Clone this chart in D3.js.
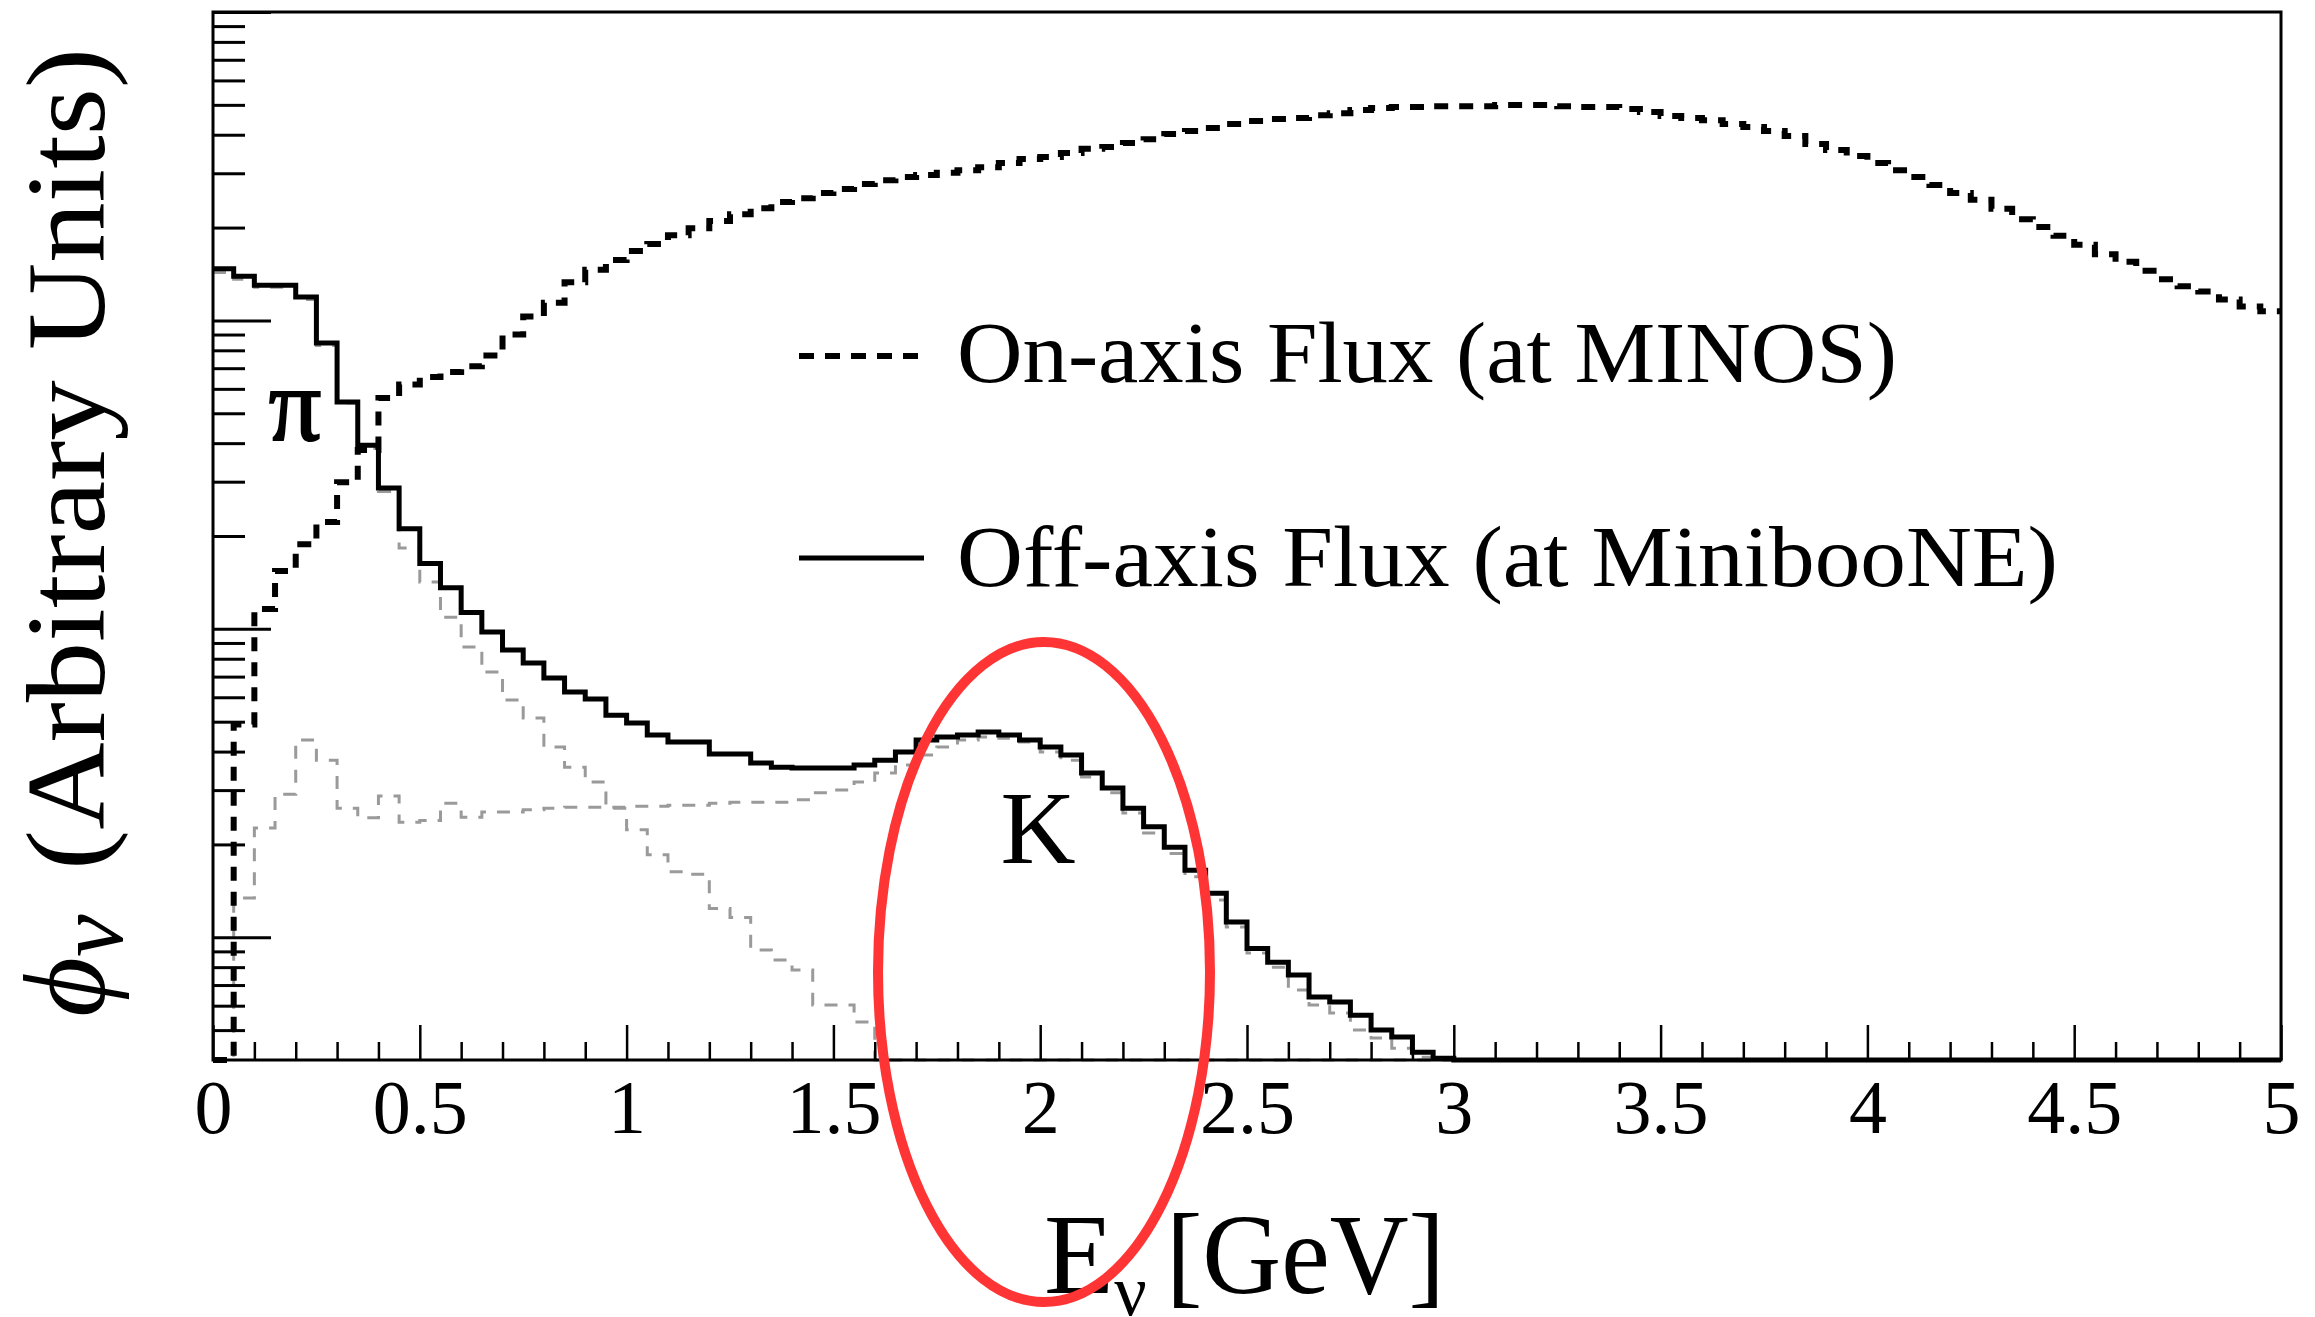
<!DOCTYPE html>
<html lang="en">
<head>
<meta charset="utf-8">
<title>Neutrino flux: on-axis vs off-axis</title>
<script src="https://cdn.jsdelivr.net/npm/d3@7"></script>
<style>
  body { margin: 0; background: #fff; }
  svg { display: block; }
  text { font-family: "Liberation Serif", "DejaVu Serif", serif; fill: #000; }
</style>
</head>
<body>
<script>
// bin width of the histograms (GeV), 100 bins from 0 to 5
var binWidth = 0.05;

// on-axis flux at MINOS (dotted)
var onAxisFlux = [0, 4.9, 11.6, 15.4, 18.8, 22.2, 29.9, 38, 56, 62,
  65.5, 68, 71, 77, 90, 103, 114, 133, 146, 157,
  168, 177, 189, 199, 210, 221, 231, 242, 249, 259,
  267, 277, 285, 292, 296, 301, 307, 314, 324, 334,
  339, 349, 360, 365, 376, 387, 402, 411, 421, 433,
  443, 450, 453, 463, 470, 481, 488, 492, 492, 495,
  495, 495, 499, 499, 499, 495, 492, 492, 485, 474,
  460, 453, 446, 433, 424, 411, 396, 373, 357, 341,
  324, 307, 292, 275, 259, 246, 230, 213, 201, 188,
  176, 164, 155, 145, 136, 129, 124, 117, 111, 107];

// off-axis flux at MiniBooNE (solid)
var offAxisFlux = [147, 139, 130, 130, 119, 84.5, 54.4, 39.4, 28.6, 21.1,
  16.3, 13.6, 11.3, 9.76, 8.54, 7.75, 6.93, 6.24, 5.92, 5.25,
  4.95, 4.53, 4.30, 4.30, 3.93, 3.93, 3.67, 3.56, 3.54, 3.54,
  3.54, 3.62, 3.75, 3.99, 4.36, 4.46, 4.53, 4.63, 4.53, 4.36,
  4.14, 3.90, 3.41, 3.05, 2.62, 2.28, 1.96, 1.65, 1.39, 1.12,
  0.92, 0.83, 0.754, 0.640, 0.617, 0.559, 0.500, 0.475, 0.424, 0.405,
  0, 0, 0, 0, 0, 0, 0, 0, 0, 0,
  0, 0, 0, 0, 0, 0, 0, 0, 0, 0,
  0, 0, 0, 0, 0, 0, 0, 0, 0, 0,
  0, 0, 0, 0, 0, 0, 0, 0, 0, 0];

// pion component of the off-axis flux (grey dashed)
var pionFlux = [143, 136, 128, 128, 117, 83, 54, 38.5, 27.9, 18.3,
  14.2, 10.9, 8.73, 7.24, 5.88, 5.14, 4.14, 3.56, 3.19, 2.62,
  2.23, 1.85, 1.63, 1.60, 1.24, 1.16, 0.91, 0.844, 0.783, 0.603,
  0.603, 0.531, 0, 0, 0, 0, 0, 0, 0, 0,
  0, 0, 0, 0, 0, 0, 0, 0, 0, 0,
  0, 0, 0, 0, 0, 0, 0, 0, 0, 0,
  0, 0, 0, 0, 0, 0, 0, 0, 0, 0,
  0, 0, 0, 0, 0, 0, 0, 0, 0, 0,
  0, 0, 0, 0, 0, 0, 0, 0, 0, 0,
  0, 0, 0, 0, 0, 0, 0, 0, 0, 0];

// kaon component of the off-axis flux (grey dashed)
var kaonFlux = [0, 1.34, 2.26, 2.91, 4.36, 3.75, 2.62, 2.44, 2.87, 2.36,
  2.39, 2.72, 2.45, 2.55, 2.55, 2.59, 2.62, 2.64, 2.64, 2.64,
  2.66, 2.66, 2.68, 2.68, 2.72, 2.74, 2.74, 2.74, 2.79, 2.94,
  3.00, 3.19, 3.41, 3.62, 3.90, 4.14, 4.36, 4.46, 4.42, 4.30,
  3.99, 3.75, 3.31, 2.94, 2.53, 2.18, 1.87, 1.57, 1.32, 1.08,
  0.889, 0.800, 0.674, 0.603, 0.568, 0.500, 0.471, 0.437, 0.408, 0,
  0, 0, 0, 0, 0, 0, 0, 0, 0, 0,
  0, 0, 0, 0, 0, 0, 0, 0, 0, 0,
  0, 0, 0, 0, 0, 0, 0, 0, 0, 0,
  0, 0, 0, 0, 0, 0, 0, 0, 0, 0];

// axis ticks
var xMajorTicks = [0, 0.5, 1, 1.5, 2, 2.5, 3, 3.5, 4, 4.5, 5];
var xTickLabels = ["0", "0.5", "1", "1.5", "2", "2.5", "3", "3.5", "4", "4.5", "5"];
var xMinorTicks = [0.1, 0.2, 0.3, 0.4, 0.6, 0.7, 0.8, 0.9, 1.1, 1.2, 1.3, 1.4,
  1.6, 1.7, 1.8, 1.9, 2.1, 2.2, 2.3, 2.4, 2.6, 2.7, 2.8, 2.9, 3.1, 3.2, 3.3, 3.4,
  3.6, 3.7, 3.8, 3.9, 4.1, 4.2, 4.3, 4.4, 4.6, 4.7, 4.8, 4.9];
var yMajorTicks = [1, 10, 100, 1000];
var yMinorTicks = [0.5, 0.6, 0.7, 0.8, 0.9, 2, 3, 4, 5, 6, 7, 8, 9,
  20, 30, 40, 50, 60, 70, 80, 90, 200, 300, 400, 500, 600, 700, 800, 900];

var legendLabels = ["On-axis Flux (at MINOS)", "Off-axis Flux (at MinibooNE)"];

var w = 2315, h = 1317;
var mLeft = 213, mRight = 2281, mTop = 12, mBottom = 1060;

var svg = d3.select("body").append("svg")
  .attr("width", w).attr("height", h);

var x = d3.scaleLinear().domain([0, 5]).range([mLeft, mRight]);
var y = d3.scaleLog().domain([0.4, 1000]).range([mBottom, mTop]).clamp(true);

// step histogram path
function histPath(vals) {
  var pts = vals.map(function(v, i) { return [i * binWidth, v]; });
  pts.push([vals.length * binWidth, vals[vals.length - 1]]);
  return d3.line()
    .x(function(d) { return x(d[0]); })
    .y(function(d) { return y(d[1]); })
    .curve(d3.curveStepAfter)(pts);
}

var plot = svg.append("g");

// components (grey dashed)
[pionFlux, kaonFlux].forEach(function(s) {
  plot.append("path")
    .attr("d", histPath(s))
    .attr("fill", "none")
    .attr("stroke", "#9a9a9a")
    .attr("stroke-width", 3)
    .attr("stroke-dasharray", "13,11");
});

// off-axis total
plot.append("path")
  .attr("d", histPath(offAxisFlux))
  .attr("fill", "none")
  .attr("stroke", "#000")
  .attr("stroke-width", 5);

// on-axis
plot.append("path")
  .attr("d", histPath(onAxisFlux))
  .attr("fill", "none")
  .attr("stroke", "#000")
  .attr("stroke-width", 6)
  .attr("stroke-dasharray", "14,11");

// axes ticks
function styleAxis(g, sw) {
  g.select(".domain").remove();
  g.selectAll("line").attr("stroke", "#000").attr("stroke-width", sw);
}

svg.append("g").attr("transform", "translate(" + mLeft + ",0)")
  .call(d3.axisLeft(y).tickValues(yMajorTicks).tickSize(-58).tickFormat(""))
  .call(styleAxis, 3);
svg.append("g").attr("transform", "translate(" + mLeft + ",0)")
  .call(d3.axisLeft(y).tickValues(yMinorTicks).tickSize(-32).tickFormat(""))
  .call(styleAxis, 3);
svg.append("g").attr("transform", "translate(0," + mBottom + ")")
  .call(d3.axisBottom(x).tickValues(xMajorTicks).tickSize(-35).tickFormat(""))
  .call(styleAxis, 2.5);
svg.append("g").attr("transform", "translate(0," + mBottom + ")")
  .call(d3.axisBottom(x).tickValues(xMinorTicks).tickSize(-18).tickFormat(""))
  .call(styleAxis, 2.5);

// tick labels
var xl = svg.append("g").attr("transform", "translate(0," + mBottom + ")")
  .call(d3.axisBottom(x).tickValues(xMajorTicks).tickSize(0).tickPadding(19)
    .tickFormat(function(d, i) { return xTickLabels[i]; }));
xl.select(".domain").remove();
xl.selectAll("text")
  .attr("font-size", 76)
  .attr("font-family", "'Liberation Serif', serif")
  .attr("fill", "#000");

// frame
svg.append("rect")
  .attr("x", mLeft).attr("y", mTop)
  .attr("width", mRight - mLeft).attr("height", mBottom - mTop)
  .attr("fill", "none").attr("stroke", "#000").attr("stroke-width", 3);

// y title
var yt = svg.append("g").attr("transform", "translate(104,1017) rotate(-90)");
var phi = yt.append("text").attr("font-size", 116).attr("font-style", "italic");
phi.append("tspan").text("ϕ");
phi.append("tspan").attr("font-size", 96).attr("dy", 18).text("ν");
yt.append("text").attr("x", 147).attr("font-size", 113)
  .attr("textLength", 822).attr("lengthAdjust", "spacingAndGlyphs")
  .text("(Arbitrary Units)");

// x title
var xt = svg.append("text").attr("x", 1044).attr("y", 1293).attr("font-size", 115);
xt.append("tspan").text("E");
xt.append("tspan").attr("font-size", 72).attr("dy", 22).text("ν");
xt.append("tspan").attr("x", 1166).attr("dy", -22)
  .attr("textLength", 279).attr("lengthAdjust", "spacingAndGlyphs").text("[GeV]");

// legend
svg.append("line").attr("x1", 799).attr("x2", 924).attr("y1", 356).attr("y2", 356)
  .attr("stroke", "#000").attr("stroke-width", 6).attr("stroke-dasharray", "15,11");
svg.append("line").attr("x1", 799).attr("x2", 924).attr("y1", 558).attr("y2", 558)
  .attr("stroke", "#000").attr("stroke-width", 5);
svg.append("text").attr("x", 957).attr("y", 382).attr("font-size", 87)
  .attr("textLength", 940).attr("lengthAdjust", "spacingAndGlyphs")
  .text(legendLabels[0]);
svg.append("text").attr("x", 957).attr("y", 586).attr("font-size", 87)
  .attr("textLength", 1101).attr("lengthAdjust", "spacingAndGlyphs")
  .text(legendLabels[1]);

// component labels
svg.append("text").attr("x", 295).attr("y", 440).attr("font-size", 104)
  .attr("text-anchor", "middle").attr("stroke", "#000").attr("stroke-width", 2)
  .text("π");
svg.append("text").attr("x", 1038).attr("y", 863).attr("font-size", 104)
  .attr("text-anchor", "middle").text("K");

// red highlight ellipse
svg.append("ellipse")
  .attr("cx", 1044).attr("cy", 972).attr("rx", 166).attr("ry", 330)
  .attr("fill", "none").attr("stroke", "#ff3535").attr("stroke-width", 10);
</script>
</body>
</html>
